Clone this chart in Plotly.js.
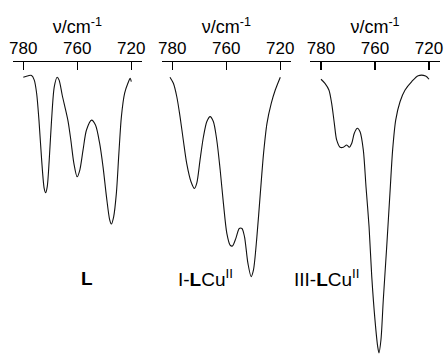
<!DOCTYPE html>
<html>
<head>
<meta charset="utf-8">
<script src="https://cdn.plot.ly/plotly-3.0.1.min.js"></script>
<style>html,body{margin:0;padding:0;background:#fff}#chart{width:445px;height:354px}</style>
</head>
<body>
<div id="chart"></div>
<script>
// Wavenumbers (cm-1) and relative transmittance (%)
const wnL = [780.0,777.2,775.4,773.9,772.6,771.3,769.8,768.4,767.6,766.7,765.6,764.3,762.8,761.2,760.1,758.4,756.5,755.1,753.6,751.9,750.1,748.6,746.8,744.9,742.1,739.9,737.6,735.7,733.8,732.0,731.1,729.8,728.3,726.9,725.5,723.7,721.9,720.6,720.0];
const tL  = [94.8,95.3,95.4,93.8,89.3,80.1,66.4,56.7,55.2,57.3,66.4,80.1,91.5,94.8,93.8,88.7,83.6,79.6,73.3,65.3,60.7,63.0,69.9,76.7,80.1,78.4,72.2,64.1,53.9,45.9,44.5,47.0,55.0,68.7,81.3,89.3,92.7,94.4,93.3];

const wnI = [781.3,779.4,777.5,775.7,773.9,772.0,769.6,767.7,766.4,764.6,762.7,760.8,759.0,757.2,755.3,753.4,751.6,749.7,747.9,746.6,744.7,742.8,741.3,739.9,738.0,736.2,734.9,733.0,731.1,729.3,727.4,725.0,722.8,720.0];
const tI  = [94.8,92.7,88.1,81.3,73.3,65.3,59.0,56.7,58.5,66.4,74.4,79.6,81.3,79.6,73.3,63.0,51.6,41.3,37.3,37.0,39.6,43.0,43.0,40.2,31.1,26.5,28.8,40.2,55.0,68.7,79.0,85.9,90.4,94.8];

const wnIII = [780.0,777.8,775.6,774.1,772.6,771.3,769.4,767.6,765.7,764.3,762.9,761.5,759.8,758.3,756.5,755.0,753.3,751.8,750.0,748.5,747.8,746.7,745.4,743.5,741.7,740.2,738.5,736.1,733.3,729.6,726.0,721.9,720.0];
const tIII  = [94.1,92.7,90.4,85.9,79.0,73.3,70.8,70.8,71.6,70.8,72.2,75.6,77.3,76.1,69.9,57.3,43.6,26.5,11.6,2.5,0.4,4.8,18.5,36.7,55.0,69.9,80.1,86.4,90.4,93.3,95.3,95.2,94.1];

const tickVals = [780, 750, 720];
const tickText = ['780', '760', '720'];
const sampleLabels = ['<b>L</b>', 'I-<b>L</b>Cu<sup>II</sup>', 'III-<b>L</b>Cu<sup>II</sup>'];
const labelX = [86.7, 205.5, 326];

const FONT = 'Arial, "Liberation Sans", sans-serif';
const lineStyle = {color: '#111', width: 1.1, shape: 'spline', smoothing: 0.8};

const traces = [
  {x: wnL, y: tL, xaxis: 'x', yaxis: 'y', mode: 'lines', line: lineStyle, hoverinfo: 'skip'},
  {x: wnI, y: tI, xaxis: 'x2', yaxis: 'y', mode: 'lines', line: lineStyle, hoverinfo: 'skip'},
  {x: wnIII, y: tIII, xaxis: 'x3', yaxis: 'y', mode: 'lines', line: lineStyle, hoverinfo: 'skip'}
];

function xax(d0, d1) {
  return {
    domain: [d0 / 445, d1 / 445], range: [786, 714], side: 'top', anchor: 'y',
    tickvals: tickVals, ticktext: tickText, ticks: 'inside', ticklen: 8, tickwidth: 1.4, tickcolor: '#000',
    showline: true, linewidth: 1.5, linecolor: '#000', showgrid: false, zeroline: false,
    tickfont: {family: FONT, size: 17, color: '#000'},
    title: {text: 'ν/cm<sup>-1</sup>', font: {family: FONT, size: 18, color: '#000'}, standoff: 0}
  };
}

const annotations = sampleLabels.map((t, i) => ({
  text: t, xref: 'paper', yref: 'paper', x: labelX[i] / 445, y: (354 - 278) / 292,
  xanchor: 'center', yanchor: 'middle', showarrow: false,
  font: {family: FONT, size: 19, color: '#000'}
}));

const layout = {
  width: 445, height: 354,
  margin: {l: 0, r: 0, t: 62, b: 0, pad: 0},
  paper_bgcolor: '#fff', plot_bgcolor: '#fff',
  showlegend: false,
  xaxis: xax(12.5, 142.1),
  xaxis2: xax(161.5, 291.1),
  xaxis3: xax(310.2, 439.8),
  yaxis: {range: [0, 100], visible: false, fixedrange: true},
  annotations: annotations
};

Plotly.newPlot('chart', traces, layout, {staticPlot: true, displayModeBar: false});
</script>
</body>
</html>
